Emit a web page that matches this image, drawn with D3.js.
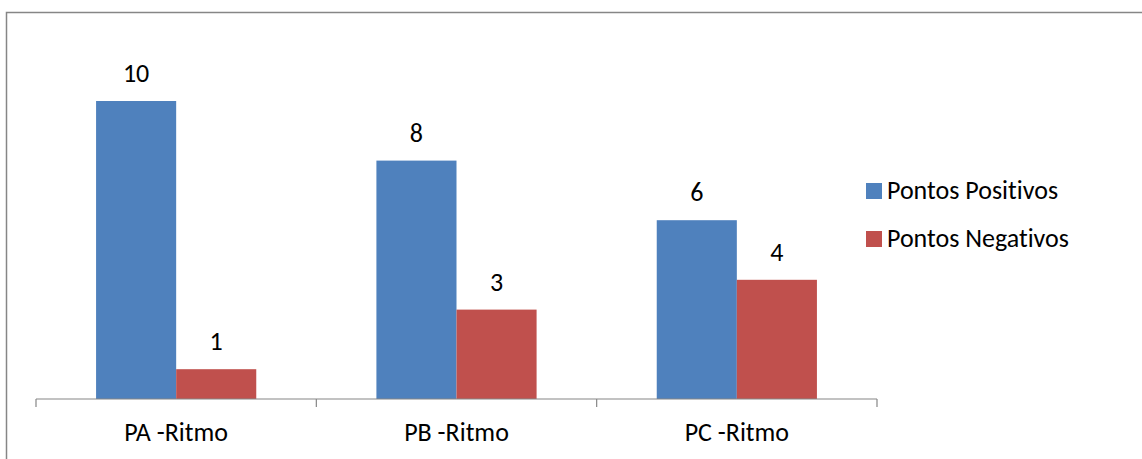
<!DOCTYPE html>
<html>
<head>
<meta charset="utf-8">
<script src="https://cdn.jsdelivr.net/npm/d3@7"></script>
<style>
  html, body { margin: 0; padding: 0; background: #fff; }
  svg { display: block; }
  text { font-family: Carlito, "Open Sans", "Liberation Sans", sans-serif; fill: #000;
         font-variant-ligatures: none; font-feature-settings: "liga" 0, "clig" 0; }
</style>
</head>
<body>
<svg id="chart" width="1142" height="459"></svg>
<script>
// Avaliação por categoria
const categories = ["PA -Ritmo", "PB -Ritmo", "PC -Ritmo"];
const seriesNames = ["Pontos Positivos", "Pontos Negativos"];
const positivos = [10, 8, 6];
const negativos = [1, 3, 4];
const colors = ["#4f81bd", "#c0504d"];

const svg = d3.select("#chart");
const W = 1142, H = 459;
const FONT = 'Carlito, "Open Sans", "Liberation Sans", sans-serif';
const FS = 26;

// chart frame
svg.append("rect")
  .attr("x", 6.5).attr("y", 12.5)
  .attr("width", W).attr("height", H)
  .attr("fill", "#fff").attr("stroke", "#868686").attr("stroke-width", 1.5);

const plot = { left: 36, right: 877, bottom: 399 };
const yMax = 12;
const y = d3.scaleLinear().domain([0, yMax]).range([plot.bottom, plot.bottom - 29.8 * yMax]);

const x0 = d3.scaleBand().domain(categories).range([plot.left, plot.right]).padding(0);
const bw = x0.bandwidth();
const x1 = d3.scaleBand().domain(seriesNames)
  .range([bw * 0.2143, bw * 0.7857]).padding(0);

const rows = categories.map((c, i) => ({
  cat: c,
  vals: [
    { s: seriesNames[0], v: positivos[i], c: colors[0] },
    { s: seriesNames[1], v: negativos[i], c: colors[1] }
  ]
}));

const groups = svg.append("g").selectAll("g").data(rows).join("g")
  .attr("transform", d => `translate(${x0(d.cat)},0)`);

groups.selectAll("rect").data(d => d.vals).join("rect")
  .attr("x", d => x1(d.s))
  .attr("width", x1.bandwidth())
  .attr("y", d => y(d.v))
  .attr("height", d => y(0) - y(d.v))
  .attr("fill", d => d.c);

groups.selectAll("text.val").data(d => d.vals).join("text")
  .attr("class", "val")
  .attr("x", d => x1(d.s) + x1.bandwidth() / 2)
  .attr("y", d => y(d.v) - 19)
  .attr("text-anchor", "middle")
  .attr("font-size", FS)
  .text(d => d.v);

// category axis
const axis = d3.axisBottom(x0).tickSize(0).tickPadding(0);
const gx = svg.append("g").attr("transform", `translate(0,${plot.bottom})`).call(axis);
gx.select(".domain").attr("stroke", "#868686").attr("stroke-width", 1.2)
  .attr("d", `M${plot.left},0H${plot.right}`);
gx.selectAll(".tick text")
  .attr("y", 42).attr("dy", 0)
  .attr("font-size", FS)
  .attr("font-family", FONT)
  .attr("fill", "#000");
// boundary tick marks between categories
const bounds = categories.map(c => x0(c)).concat([plot.right]);
gx.selectAll("line.bound").data(bounds).join("line")
  .attr("class", "bound")
  .attr("x1", d => d).attr("x2", d => d)
  .attr("y1", 0).attr("y2", 8)
  .attr("stroke", "#868686").attr("stroke-width", 1.2);

// legend
const legend = svg.append("g").attr("transform", "translate(866,183)");
const li = legend.selectAll("g").data(seriesNames).join("g")
  .attr("transform", (d, i) => `translate(0,${i * 48})`);
li.append("rect").attr("width", 16).attr("height", 16)
  .attr("fill", (d, i) => colors[i]);
li.append("text").attr("x", 21).attr("y", 16)
  .attr("font-size", FS).text(d => d);
</script>
</body>
</html>
